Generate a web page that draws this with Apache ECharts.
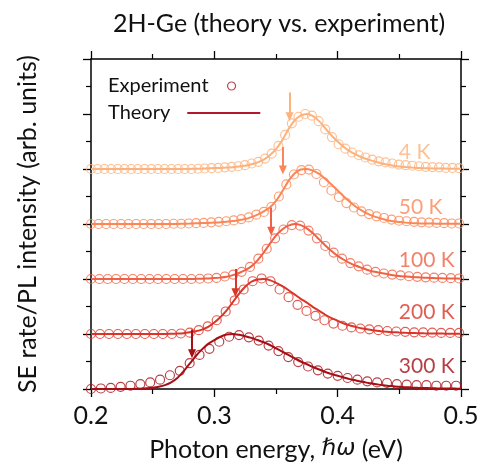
<!DOCTYPE html>
<html><head><meta charset="utf-8">
<script src="https://cdn.jsdelivr.net/npm/echarts@6/dist/echarts.min.js"></script>
<style>html,body{margin:0;padding:0;background:#fff}#c{width:490px;height:468px}</style>
</head><body><div id="c"></div>
<script>
// ---------- data ----------
const curveLabels = ['4 K', '50 K', '100 K', '200 K', '300 K'];
const offsets = [4, 3, 2, 1, 0];
const xTickLabels = ['0.2', '0.3', '0.4', '0.5'];

// theory curves sampled every 0.005 eV from 0.200 to 0.500 (61 values)
const theoryStart = 0.2, theoryStep = 0.005;
const theory4K = [0,0,0,0,0,0,0,0,0,0,0,0,0,0,0,0,
  0.002,0.005,0.008,0.012,0.016,0.02,0.026,0.034,0.045,0.06,0.085,0.12,0.17,0.25,0.36,0.52,0.72,0.88,0.97,1.0,
  0.96,0.87,0.74,0.61,0.50,0.40,0.32,0.26,0.21,0.17,0.135,0.105,0.08,0.06,0.045,0.035,0.027,0.02,0.015,0.012,
  0.01,0.008,0.006,0.005,0.004];
const theory50K = [0,0,0,0,0,0,0,0,0,0,0,0,0,0,0,
  0.005,0.008,0.012,0.016,0.02,0.026,0.033,0.043,0.055,0.07,0.09,0.125,0.17,0.23,0.30,0.42,0.59,0.78,0.92,0.99,1.0,
  0.97,0.91,0.82,0.72,0.61,0.50,0.40,0.31,0.24,0.18,0.135,0.10,0.07,0.05,0.035,0.025,0.018,0.013,0.01,0.008,
  0.006,0.005,0.004,0.004,0.003];
const theory100K = [0,0,0,0,0,0,0,0,0,0,0,0,0,0,0,0,0,
  0.003,0.006,0.01,0.016,0.025,0.04,0.07,0.11,0.16,0.23,0.34,0.48,0.64,0.79,0.90,0.97,1.0,
  0.98,0.92,0.83,0.72,0.61,0.51,0.42,0.35,0.29,0.24,0.20,0.16,0.13,0.11,0.09,0.07,0.055,0.045,0.036,0.03,0.024,
  0.019,0.015,0.012,0.01,0.008,0.006];
const theory200K = [0,0,0,0,0,0,0,0,0,0,0,0,0,
  0.003,0.008,0.015,0.03,0.05,0.08,0.13,0.21,0.31,0.43,0.58,0.73,0.86,0.95,0.99,1.0,
  0.98,0.93,0.87,0.80,0.72,0.64,0.57,0.49,0.42,0.35,0.29,0.24,0.19,0.155,0.125,0.10,0.08,0.065,0.05,0.04,0.033,
  0.027,0.022,0.018,0.015,0.012,0.01,0.008,0.007,0.006,0.005,0.004];
const theory300K = [0,0,0,0,0,0,0,
  0.003,0.006,0.012,0.022,0.04,0.07,0.12,0.20,0.32,0.46,0.60,0.72,0.82,0.89,0.95,0.99,1.0,
  0.985,0.96,0.93,0.89,0.85,0.80,0.74,0.68,0.62,0.56,0.50,0.45,0.40,0.355,0.31,0.27,0.24,0.21,0.18,0.155,0.13,
  0.11,0.09,0.075,0.06,0.05,0.04,0.033,0.027,0.022,0.018,0.015,0.012,0.01,0.008,0.007,0.006];

// experimental points, evenly spaced from 0.2 eV to expEnd
const expStart = 0.2;
const expEnd = [0.4985, 0.4985, 0.4985, 0.4985, 0.496];
const exp4K = [0,0,0,0,0,0,0,0,0,0,0,0,0,0,0,0,
  0.005,0.01,0.015,0.02,0.03,0.04,0.05,0.07,0.10,0.13,0.19,0.28,0.42,0.62,0.83,0.95,1.0,0.97,0.87,0.72,0.58,0.45,
  0.37,0.30,0.25,0.21,0.17,0.14,0.12,0.10,0.08,0.07,0.06,0.05,0.04,0.035,0.03,0.02,0.02,0.015];
const exp50K = [0,0,0,0,0,0,0,0,0,0,0,
  0.005,0.005,0.01,0.015,0.02,0.03,0.04,0.05,0.065,0.09,0.12,0.17,0.22,0.31,0.50,0.72,0.90,0.98,0.99,0.91,0.76,
  0.61,0.49,0.38,0.30,0.23,0.18,0.14,0.11,0.08,0.06,0.05,0.04,0.03,0.025,0.02,0.015,0.01,0.01];
const exp100K = [0,0,0,0,0,0,0,0,0,0,0,0,0,
  0.005,0.01,0.02,0.045,0.08,0.13,0.22,0.37,0.55,0.74,0.90,0.98,0.97,0.88,0.74,0.60,0.48,0.37,0.29,0.23,0.17,
  0.13,0.10,0.08,0.065,0.05,0.04,0.03,0.025,0.02,0.015,0.01];
const exp200K = [0,0,0,0,0,0,0,0,0,0,
  0.01,0.025,0.07,0.14,0.25,0.41,0.61,0.81,0.96,1.01,0.96,0.81,0.67,0.53,0.42,0.33,0.25,0.19,0.15,0.12,0.10,
  0.085,0.07,0.055,0.045,0.04,0.03,0.03,0.025,0.02,0.02,0.02];
const exp300K = [0.00,0.01,0.02,0.04,0.06,0.09,0.12,0.17,0.25,0.33,0.47,0.62,0.73,0.86,0.95,0.98,0.94,0.88,
  0.79,0.69,0.58,0.49,0.41,0.34,0.28,0.24,0.20,0.17,0.14,0.12,0.11,0.09,0.08,0.07,0.07,0.06,0.06,0.06];

// arrows (energy, top, tip) and curve labels
const arrowE = [0.361, 0.3556, 0.3461, 0.3171, 0.2819];
const arrowTop = [5.39, 4.40, 3.30, 2.18, 1.08];
const arrowTip = [4.87, 3.90, 2.79, 1.67, 0.56];
const labelE = 0.4496;
const labelY = [4.31, 3.30, 2.35, 1.39, 0.41];

// ---------- style ----------
const colors = ['#fdb27c', '#fb8756', '#ef6245', '#da3528', '#a50f15'];
const legendColor = '#b2182b';
const FONT = 'Lato';
const theories = [theory4K, theory50K, theory100K, theory200K, theory300K];
const exps = [exp4K, exp50K, exp100K, exp200K, exp300K];

const series = [];
theories.forEach((arr, k) => {
  series.push({
    type: 'line', name: 'th' + k, silent: true, showSymbol: false, symbol: 'none',
    smooth: 0.3, z: 2,
    lineStyle: { color: colors[k], width: 2 },
    data: arr.map((v, i) => [theoryStart + i * theoryStep, v + offsets[k]])
  });
});
exps.forEach((arr, k) => {
  const n = arr.length, step = (expEnd[k] - expStart) / (n - 1);
  series.push({
    type: 'scatter', name: 'ex' + k, silent: true, symbol: 'circle', symbolSize: 9, z: 3,
    itemStyle: { color: 'rgba(0,0,0,0)', borderColor: colors[k], borderWidth: 1.15 },
    data: arr.map((v, i) => [expStart + i * step, v + offsets[k]]),
    markLine: {
      silent: true, animation: false, symbol: ['none', 'triangle'], symbolSize: [8, 9],
      lineStyle: { color: colors[k], width: 2, type: 'solid' }, label: { show: false },
      data: [[{ coord: [arrowE[k], arrowTop[k]] }, { coord: [arrowE[k], arrowTip[k] + 0.08] }]]
    }
  });
});
series.push({
  type: 'scatter', name: 'labels', silent: true, symbolSize: 0, z: 5,
  data: curveLabels.map((t, k) => ({
    value: [labelE, labelY[k]],
    label: { show: true, position: 'right', distance: 0, formatter: t, color: colors[k],
      fontFamily: FONT, fontSize: 21 }
  }))
});
series.push({ type: 'scatter', name: 'Experiment', data: [], itemStyle: { color: legendColor } });
series.push({ type: 'line', name: 'Theory', data: [], itemStyle: { color: legendColor }, lineStyle: { color: legendColor } });

const axisCommon = {
  axisLine: { show: true, onZero: false, lineStyle: { color: '#000', width: 1.5 } },
  axisTick: { show: true, inside: false, length: 8, lineStyle: { color: '#000', width: 1.3 } },
  minorTick: { show: true, splitNumber: 2, length: 5, lineStyle: { color: '#000', width: 1.2 } },
  splitLine: { show: false }, minorSplitLine: { show: false }
};

const option = {
  animation: false,
  backgroundColor: '#fff',
  title: {
    text: '2H-Ge (theory vs. experiment)', left: 274, top: 6, textAlign: 'center',
    textStyle: { fontFamily: FONT, fontSize: 25, fontWeight: 'normal', color: '#111' }
  },
  legend: [
    { data: [{ name: 'Experiment', icon: 'circle' }], left: 108, top: 76, padding: 0, align: 'right',
      itemWidth: 8, itemHeight: 8, selectedMode: false,
      itemStyle: { color: 'rgba(0,0,0,0)', borderColor: legendColor, borderWidth: 1.2 },
      textStyle: { fontFamily: FONT, fontSize: 20, color: '#111', padding: [0, 14, 0, 0] } },
    { data: [{ name: 'Theory', icon: 'rect' }], left: 108, top: 103, padding: 0, align: 'right',
      itemWidth: 73, itemHeight: 2, selectedMode: false,
      itemStyle: { color: legendColor, borderWidth: 0 },
      textStyle: { fontFamily: FONT, fontSize: 20, color: '#111', padding: [0, 12, 0, 0] } }
  ],
  grid: { left: 91, top: 59, width: 370, height: 330, containLabel: false },
  xAxis: [
    Object.assign({}, axisCommon, {
      type: 'value', position: 'bottom', min: 0.2, max: 0.5, interval: 0.1,
      axisLabel: { margin: 14, fontFamily: FONT, fontSize: 25, color: '#111',
        formatter: v => xTickLabels[Math.round((v - 0.2) / 0.1)] },
      name: '{a|Photon energy, }{i|ℏω}{a| (eV)}', nameLocation: 'middle', nameGap: 48,
      nameTextStyle: { rich: {
        a: { fontFamily: FONT, fontSize: 25, color: '#111' },
        i: { fontFamily: 'DejaVu Sans', fontStyle: 'italic', fontSize: 23, color: '#111' } } }
    }),
    Object.assign({}, axisCommon, {
      type: 'value', position: 'top', min: 0.2, max: 0.5, interval: 0.1, axisLabel: { show: false }
    })
  ],
  yAxis: [
    Object.assign({}, axisCommon, {
      type: 'value', position: 'left', min: 0, max: 6, interval: 1, axisLabel: { show: false },
      name: 'SE rate/PL intensity (arb. units)', nameLocation: 'middle', nameGap: 51,
      nameTextStyle: { fontFamily: FONT, fontSize: 25, color: '#111' }
    }),
    Object.assign({}, axisCommon, {
      type: 'value', position: 'right', min: 0, max: 6, interval: 1, axisLabel: { show: false }
    })
  ],
  series: series
};
const chart = echarts.init(document.getElementById('c'), null, { renderer: 'canvas' });
chart.setOption(option);
</script></body></html>
